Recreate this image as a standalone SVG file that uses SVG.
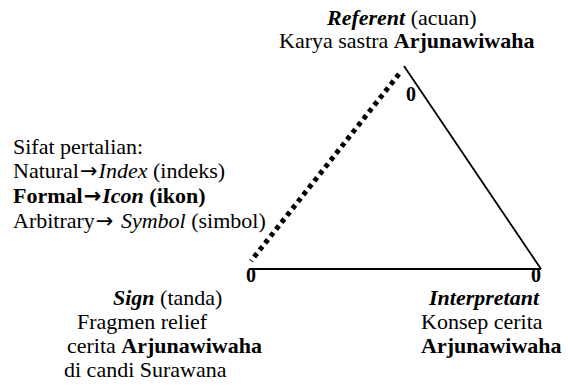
<svg xmlns="http://www.w3.org/2000/svg" width="568" height="390" viewBox="0 0 568 390">
<style>
text{font-family:"Liberation Serif","Times New Roman",serif;font-size:22px;fill:#000}
.b{font-weight:bold}
.i{font-style:italic}
.z{font-weight:bold;font-size:20px;text-anchor:middle}
.ar{font-family:"DejaVu Sans",sans-serif;font-size:21px}
</style>
<rect width="568" height="390" fill="#fff"/>
<g id="connectors" fill="none" stroke="#000">
<line x1="404" y1="66" x2="541" y2="269" stroke-width="1.8"/>
<line x1="249" y1="269" x2="541" y2="269" stroke-width="2"/>
<line x1="399" y1="74" x2="251" y2="261" stroke-width="5" stroke-dasharray="4.5 4.3"/>
</g>
<g id="referent">
<text x="327" y="25"><tspan class="b i">Referent</tspan> (acuan)</text>
<text x="279" y="48">Karya sastra <tspan class="b">Arjunawiwaha</tspan></text>
<text class="z" x="411" y="101">0</text>
</g>
<g id="relation">
<text x="13" y="154">Sifat pertalian:</text>
<text x="13" y="178">Natural<tspan class="ar" dx="1">→</tspan><tspan class="i" dx="1">Index</tspan> (indeks)</text>
<text x="13" y="203" class="b">Formal<tspan class="ar" dx="1">→</tspan><tspan class="i" dx="1">Icon</tspan> (ikon)</text>
<text x="13" y="228">Arbitrary<tspan class="ar" dx="1">→</tspan> <tspan class="i" dx="2">Symbol</tspan> (simbol)</text>
</g>
<g id="sign">
<text class="z" x="251" y="282">0</text>
<text x="113" y="305"><tspan class="b i">Sign</tspan> (tanda)</text>
<text x="77" y="329">Fragmen relief</text>
<text x="67" y="353">cerita <tspan class="b">Arjunawiwaha</tspan></text>
<text x="64" y="377">di candi Surawana</text>
</g>
<g id="interpretant">
<text class="z" x="536" y="282">0</text>
<text x="429" y="305" class="b i">Interpretant</text>
<text x="421" y="329">Konsep cerita</text>
<text x="421" y="353" class="b">Arjunawiwaha</text>
</g>
</svg>
